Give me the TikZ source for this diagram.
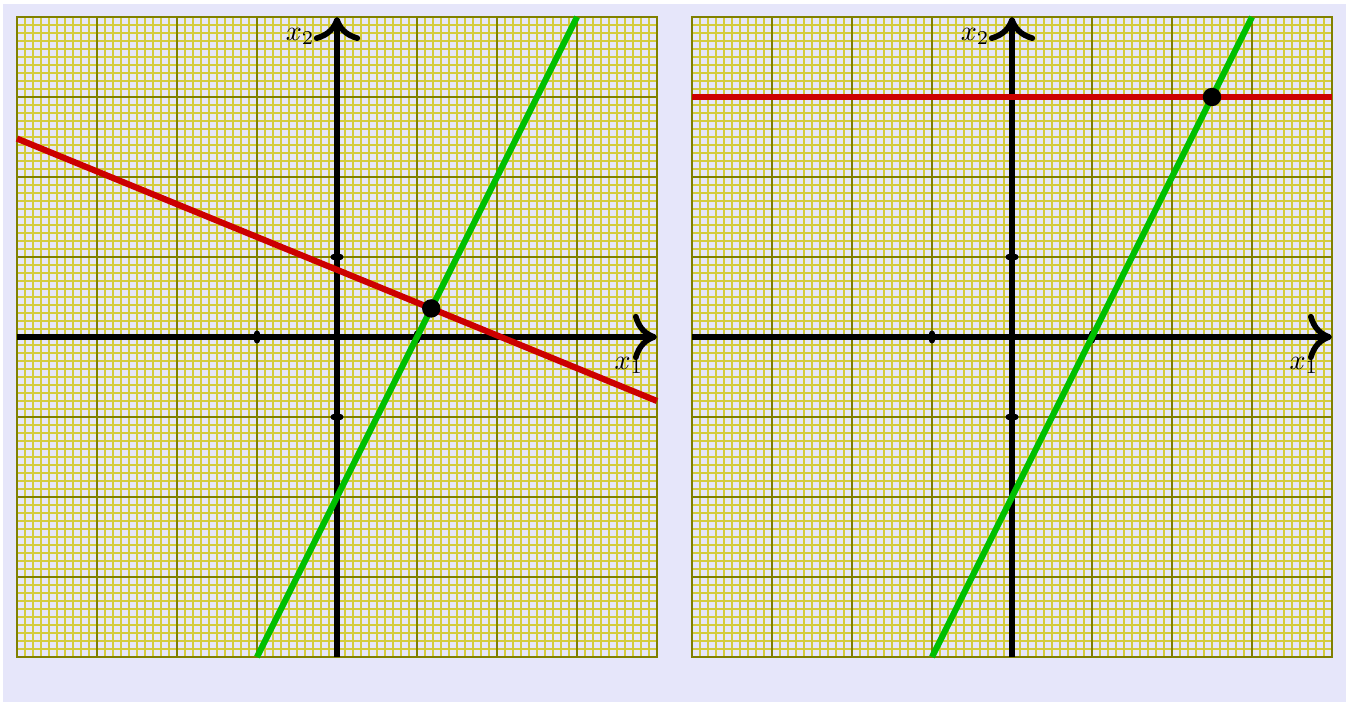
\documentclass[tikz,border=0pt]{standalone}
\usetikzlibrary{arrows.meta}
\definecolor{bgcol}{RGB}{230,230,250}
\definecolor{minorcol}{RGB}{212,204,60}
\definecolor{majorcol}{RGB}{128,128,0}
\begin{document}
\begin{tikzpicture}[
  minorgrid/.style={draw=minorcol,line width=0.4pt},
  majorgrid/.style={draw=majorcol,line width=0.7pt},
  axis/.style={line width=2pt,-{Computer Modern Rightarrow[length=0.3cm,width=0.58cm]}},
  ticmark/.style={line width=2pt,line cap=round},
  redline/.style={draw=red!80!black,line width=2.2pt},
  greenline/.style={draw=green!75!black,line width=2.2pt},
  sol/.style={circle,fill=black,inner sep=0pt,minimum size=0.23cm}]
\useasboundingbox (-4.2125,-4.5625) rectangle (12.6125,4.2125);
\fill[bgcol] (-4.175,-4.5625) rectangle (12.6125,4.1625);
% two panels: left = original system, right = after elimination
\foreach \ox/\pn/\ra/\rb/\sx/\sy in {0/L/2.48/-0.8/1.178/0.357, 8.4375/R/3/3/2.5/3}{
\begin{scope}[xshift=\ox cm]
  \draw[minorgrid] (-4,-4) grid[step=0.1] (4,4);
  \draw[majorgrid] (-4,-4) grid[step=1] (4,4);
  \draw[majorgrid] (-4,-4) rectangle (4,4);
  \coordinate (o\pn) at (0,0);
  \coordinate (xa\pn) at (-4,0);
  \coordinate (xb\pn) at (4,0);
  \coordinate (ya\pn) at (0,-4);
  \coordinate (yb\pn) at (0,4);
  \draw[axis] (xa\pn) -- (xb\pn);
  \draw[axis] (ya\pn) -- (yb\pn);
  \foreach \t in {-1,1}{
    \draw[ticmark] (\t,-0.045) -- (\t,0.045);
    \draw[ticmark] (-0.045,\t) -- (0.045,\t);
  }
  \node (xone\pn) at (3.65,-0.36) {$x_1$};
  \node (xtwo\pn) at (-0.46,3.76) {$x_2$};
  \draw[redline] (-4,\ra) -- (4,\rb);
  \draw[greenline] (-1,-4) -- (3,4);
  \node[sol] (sol\pn) at (\sx,\sy) {};
\end{scope}
}
\end{tikzpicture}
\end{document}
